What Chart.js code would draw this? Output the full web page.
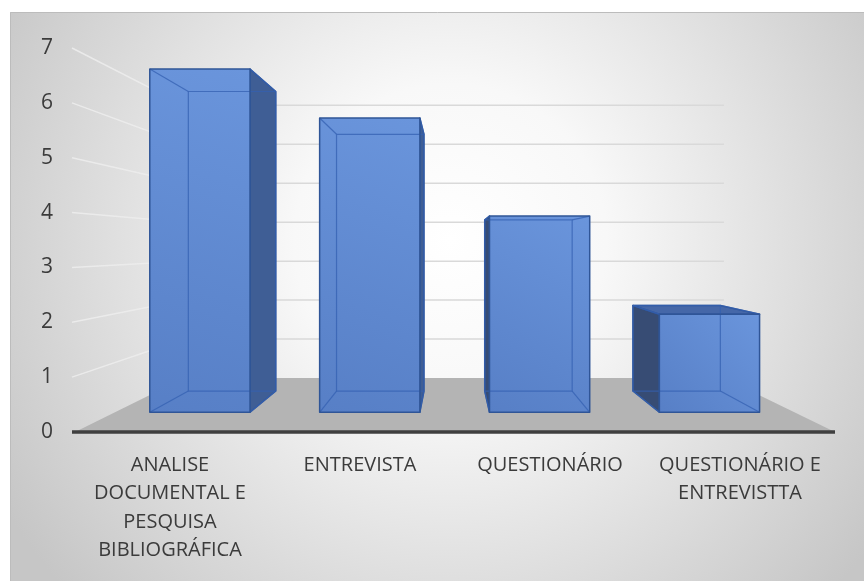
<!DOCTYPE html>
<html>
<head>
<meta charset="utf-8">
<script src="https://cdn.jsdelivr.net/npm/chart.js@4/dist/chart.umd.min.js"></script>
<style>
  html, body { margin: 0; padding: 0; background: #fff; }
  canvas { display: block; }
</style>
</head>
<body>
<canvas id="chartMetodos" width="864" height="581"></canvas>
<script>
const categories = [
  ['ANALISE', 'DOCUMENTAL E', 'PESQUISA', 'BIBLIOGRÁFICA'],
  ['ENTREVISTA'],
  ['QUESTIONÁRIO'],
  ['QUESTIONÁRIO E', 'ENTREVISTTA'],
];
const values = [7, 6, 4, 2];
const yMin = 0;
const yMax = 7;

(function () {
  // depth of each plane, as a shrink factor towards the vanishing point
  const K_FRONT = 0.894;
  const K_BACK = 0.78;
  const K_WALL = 0.71;

  Chart.defaults.font.family = "'Open Sans', sans-serif";
  Chart.defaults.font.size = 20;
  Chart.defaults.color = '#3b3b3b';

  function vanish(a) {
    return { x: (a.left + a.right) / 2 - 3, y: a.top + (a.bottom - a.top) * 0.515 };
  }
  function proj(v, px, py, k) {
    return { x: v.x + k * (px - v.x), y: v.y + k * (py - v.y) };
  }
  function poly(ctx, pts) {
    ctx.beginPath();
    ctx.moveTo(pts[0].x, pts[0].y);
    for (let i = 1; i < pts.length; i++) ctx.lineTo(pts[i].x, pts[i].y);
    ctx.closePath();
  }
  function seg(ctx, p, q) {
    ctx.beginPath();
    ctx.moveTo(p.x, p.y);
    ctx.lineTo(q.x, q.y);
    ctx.stroke();
  }

  const background = {
    id: 'background',
    beforeDraw(chart) {
      const { ctx, width, height } = chart;
      ctx.save();
      ctx.fillStyle = '#ffffff';
      ctx.fillRect(0, 0, width, height);
      const g = ctx.createRadialGradient(450, 240, 0, 450, 240, 520);
      g.addColorStop(0, '#ffffff');
      g.addColorStop(0.3, '#f8f8f8');
      g.addColorStop(1, '#c6c6c6');
      ctx.fillStyle = g;
      ctx.fillRect(10, 12, width - 10, height - 12);
      ctx.strokeStyle = '#bcbcbc';
      ctx.lineWidth = 1;
      ctx.beginPath();
      ctx.moveTo(10.5, height);
      ctx.lineTo(10.5, 12.5);
      ctx.lineTo(width, 12.5);
      ctx.stroke();
      ctx.restore();
    },
  };

  // floor, walls with their gridlines and the category axis line
  const room = {
    id: 'room',
    beforeDatasetsDraw(chart) {
      const { ctx, chartArea: a, scales: { y } } = chart;
      const v = vanish(a);
      const y0 = y.getPixelForValue(0);
      const bl = proj(v, a.left, y0, K_WALL);
      const br = proj(v, a.right, y0, K_WALL);
      ctx.save();
      poly(ctx, [{ x: a.left, y: y0 }, { x: a.right, y: y0 }, br, bl]);
      ctx.fillStyle = '#b4b4b4';
      ctx.fill();

      y.ticks.forEach(t => {
        if (t.value === 0) return;
        const fy = y.getPixelForValue(t.value);
        const l = proj(v, a.left, fy, K_WALL);
        const r = proj(v, a.right, fy, K_WALL);
        ctx.lineWidth = 1.5;
        ctx.strokeStyle = 'rgba(236,236,236,0.9)';
        seg(ctx, { x: a.left - 3, y: fy }, l);
        ctx.strokeStyle = '#d9d9d9';
        seg(ctx, l, r);
      });

      ctx.strokeStyle = '#3f3f3f';
      ctx.lineWidth = 3.5;
      seg(ctx, { x: a.left - 3, y: y0 }, { x: a.right, y: y0 });
      ctx.restore();
    },
  };

  // each bar element becomes a box between the front and back planes
  const boxes = {
    id: 'boxes',
    afterDatasetsDraw(chart) {
      const { ctx, chartArea: a } = chart;
      const v = vanish(a);
      const meta = chart.getDatasetMeta(0);
      ctx.save();
      ctx.lineJoin = 'round';
      meta.data.forEach(el => {
        const { x, y, base, width } = el.getProps(['x', 'y', 'base', 'width'], true);
        const l = x - width / 2;
        const r = x + width / 2;
        const fTL = proj(v, l, y, K_FRONT), fTR = proj(v, r, y, K_FRONT);
        const fBL = proj(v, l, base, K_FRONT), fBR = proj(v, r, base, K_FRONT);
        const bTL = proj(v, l, y, K_BACK), bTR = proj(v, r, y, K_BACK);
        const bBL = proj(v, l, base, K_BACK), bBR = proj(v, r, base, K_BACK);

        const side = x < v.x ? [fTR, bTR, bBR, fBR] : [fTL, bTL, bBL, fBL];
        poly(ctx, side);
        ctx.fillStyle = x < v.x ? '#3f5e95' : '#374c74';
        ctx.fill();
        ctx.strokeStyle = '#2f5597';
        ctx.lineWidth = 1.5;
        ctx.stroke();

        if (fTL.y > v.y) {
          poly(ctx, [fTL, fTR, bTR, bTL]);
          ctx.fillStyle = '#4567a8';
          ctx.fill();
          ctx.stroke();
        }

        const g = ctx.createLinearGradient(fBL.x, fBL.y, fTR.x, fTR.y);
        g.addColorStop(0, '#577fc6');
        g.addColorStop(1, '#6a95dc');
        poly(ctx, [fTL, fTR, fBR, fBL]);
        ctx.fillStyle = g;
        ctx.fill();

        // back edges seen through the front face
        ctx.strokeStyle = 'rgba(52,96,178,0.75)';
        ctx.lineWidth = 1.2;
        poly(ctx, [bTL, bTR, bBR, bBL]);
        ctx.stroke();
        seg(ctx, fTL, bTL);
        seg(ctx, fTR, bTR);
        seg(ctx, fBL, bBL);
        seg(ctx, fBR, bBR);

        poly(ctx, [fTL, fTR, fBR, fBL]);
        ctx.strokeStyle = '#2f5597';
        ctx.lineWidth = 1.5;
        ctx.stroke();
      });
      ctx.restore();
    },
  };

  new Chart(document.getElementById('chartMetodos'), {
    type: 'bar',
    data: {
      labels: categories,
      datasets: [{
        data: values,
        backgroundColor: 'rgba(0,0,0,0)',
        borderWidth: 0,
        categoryPercentage: 1,
        barPercentage: 0.59,
      }],
    },
    options: {
      responsive: false,
      animation: false,
      devicePixelRatio: 1,
      layout: { padding: { top: 48, right: 29, left: 0, bottom: 0 } },
      plugins: { legend: { display: false }, tooltip: { enabled: false } },
      scales: {
        x: {
          grid: { display: false, drawTicks: false },
          border: { display: false },
          ticks: { maxRotation: 0, autoSkip: false, padding: 19, font: { lineHeight: 1.42 } },
          afterFit: s => { s.height = 149; },
        },
        y: {
          min: yMin,
          max: yMax,
          grid: { display: false, drawTicks: false },
          border: { display: false },
          ticks: { stepSize: 1, padding: 22, font: { size: 21 } },
          afterFit: s => { s.width = 75; },
        },
      },
    },
    plugins: [background, room, boxes],
  });
})();
</script>
</body>
</html>
